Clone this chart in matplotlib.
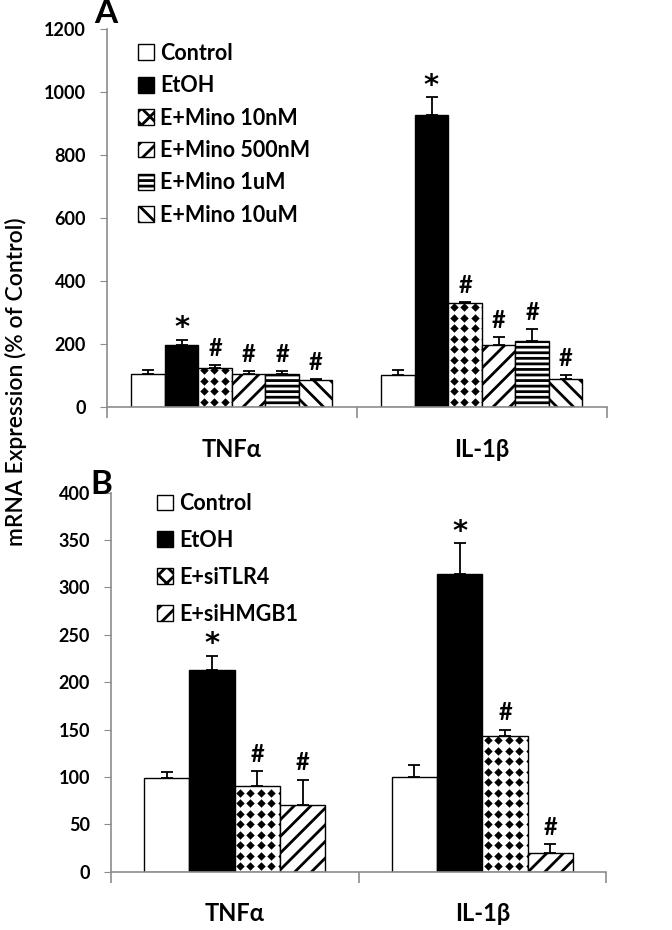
import numpy as np
import matplotlib
matplotlib.use('Agg')
import matplotlib.pyplot as plt
from matplotlib.patches import Patch

plt.rcParams['font.family'] = ['Lato', 'DejaVu Sans']
plt.rcParams['font.weight'] = 'bold'
plt.rcParams['hatch.linewidth'] = 2.0

genes = ['TNFα', 'IL-1β']

# panel A
a_groups = ['Control', 'EtOH', 'E+Mino 10nM', 'E+Mino 500nM', 'E+Mino 1uM', 'E+Mino 10uM']
a_tnf = [105, 197, 123, 105, 105, 86]
a_tnf_err = [13, 17, 10, 9, 9, 2]
a_il1b = [102, 927, 329, 196, 208, 89]
a_il1b_err = [16, 58, 4, 25, 38, 12]
a_marks = ['', '*', '#', '#', '#', '#']

# panel B
b_groups = ['Control', 'EtOH', 'E+siTLR4', 'E+siHMGB1']
b_tnf = [99, 213, 90, 70]
b_tnf_err = [6, 15, 16, 27]
b_il1b = [100, 314, 143, 20]
b_il1b_err = [13, 33, 7, 9]
b_marks = ['', '*', '#', '#']

a_styles = [('white', ''), ('black', ''), ('white', 'diamond'),
            ('white', '//'), ('white', '---'), ('white', '\\\\')]
b_styles = [('white', ''), ('black', ''), ('white', 'diamond'), ('white', '//')]

GRAY = '#8c8c8c'

fig = plt.figure(figsize=(6.72, 9.30), dpi=100)
axA = fig.add_axes([0.159, 0.5624, 0.744, 0.4064])
axB = fig.add_axes([0.165, 0.0627, 0.737, 0.4075])


def add_diamonds(ax, bar, spacing=10.5, size=4.3):
    # diamond fill pattern, clipped to the bar
    pos = ax.get_position()
    x0l, x1l = ax.get_xlim()
    y0l, y1l = ax.get_ylim()
    sx = (x1l - x0l) / (pos.width * fig.get_figwidth() * fig.dpi)
    sy = (y1l - y0l) / (pos.height * fig.get_figheight() * fig.dpi)
    bx, by = bar.get_x(), bar.get_y()
    bw, bh = bar.get_width(), bar.get_height()
    gx = np.arange(bx + spacing * sx * 0.5, bx + bw + spacing * sx, spacing * sx)
    gy = np.arange(by + spacing * sy * 0.5, by + bh + spacing * sy, spacing * sy)
    X, Y = np.meshgrid(gx, gy)
    sc = ax.scatter(X.ravel(), Y.ravel(), marker='D', s=size ** 2, c='black',
                    linewidths=0, zorder=bar.get_zorder() + 0.1)
    sc.set_clip_path(bar)


def draw_panel(ax, groups, tnf, tnf_err, il, il_err, marks, styles, gw, ymax, ystep):
    ax.set_xlim(-0.5, 1.5)
    ax.set_ylim(0, ymax)
    n = len(groups)
    w = gw / n
    x = np.arange(len(genes))
    handles = []
    for i in range(n):
        xs = x + (i - (n - 1) / 2) * w
        vals = [tnf[i], il[i]]
        errs = [tnf_err[i], il_err[i]]
        fc, h = styles[i]
        bars = ax.bar(xs, vals, w, color=fc, edgecolor='black', linewidth=1,
                      hatch=(h if h != 'diamond' else None), zorder=2)
        if h == 'diamond':
            for b in bars:
                add_diamonds(ax, b)
            handles.append(Patch(facecolor='white', edgecolor='black', hatch='xx', label=groups[i]))
        else:
            handles.append(Patch(facecolor=fc, edgecolor='black', hatch=h or None, label=groups[i]))
        ax.errorbar(xs, vals, yerr=[[0, 0], errs], fmt='none', ecolor='black',
                    elinewidth=1.3, capsize=4, capthick=1.3, zorder=3)
        if marks[i] == '*':
            for k in range(len(xs)):
                ax.annotate('*', (xs[k], vals[k] + errs[k]), xytext=(0, -2),
                            textcoords='offset points', ha='center', va='bottom',
                            fontsize=21, fontweight='bold', family='DejaVu Sans')
        elif marks[i]:
            for k in range(len(xs)):
                ax.annotate(marks[i], (xs[k], vals[k] + errs[k]), xytext=(0, 4),
                            textcoords='offset points', ha='center', va='bottom',
                            fontsize=17, fontweight='bold')

    for s in ['top', 'right']:
        ax.spines[s].set_visible(False)
    for s in ['left', 'bottom']:
        ax.spines[s].set_color(GRAY)
        ax.spines[s].set_linewidth(1.2)
    ax.set_yticks(np.arange(0, ymax + 1, ystep))
    ax.tick_params(axis='y', colors=GRAY, labelcolor='black', length=5, labelsize=13, pad=10)
    ax.set_xticks(x)
    ax.set_xticklabels(genes, fontsize=17, fontweight='bold')
    ax.tick_params(axis='x', which='major', length=0, pad=22)
    ax.set_xticks([-0.5, 0.5, 1.5], minor=True)
    ax.tick_params(axis='x', which='minor', length=8, color=GRAY, width=1.2)
    return handles


hA = draw_panel(axA, a_groups, a_tnf, a_tnf_err, a_il1b, a_il1b_err, a_marks,
                a_styles, 0.805, 1200, 200)
hB = draw_panel(axB, b_groups, b_tnf, b_tnf_err, b_il1b, b_il1b_err, b_marks,
                b_styles, 0.733, 400, 50)

fig.legend(handles=hA, loc='upper left', bbox_to_anchor=(0.205, 0.954), frameon=False,
           fontsize=15.5, handlelength=0.75, handleheight=0.75, handletextpad=0.3,
           labelspacing=0.53, borderpad=0, borderaxespad=0)
fig.legend(handles=hB, loc='upper left', bbox_to_anchor=(0.233, 0.470), frameon=False,
           fontsize=15.5, handlelength=0.75, handleheight=0.75, handletextpad=0.3,
           labelspacing=0.74, borderpad=0, borderaxespad=0)

fig.text(0.140, 0.985, 'A', fontsize=24, fontweight='bold', ha='left', va='center')
fig.text(0.135, 0.479, 'B', fontsize=24, fontweight='bold', ha='left', va='center')
fig.text(0.024, 0.59, 'mRNA Expression (% of Control)', rotation=90, ha='center',
         va='center', fontsize=16.5, fontweight='semibold')

fig.savefig('out.png', dpi=100)
